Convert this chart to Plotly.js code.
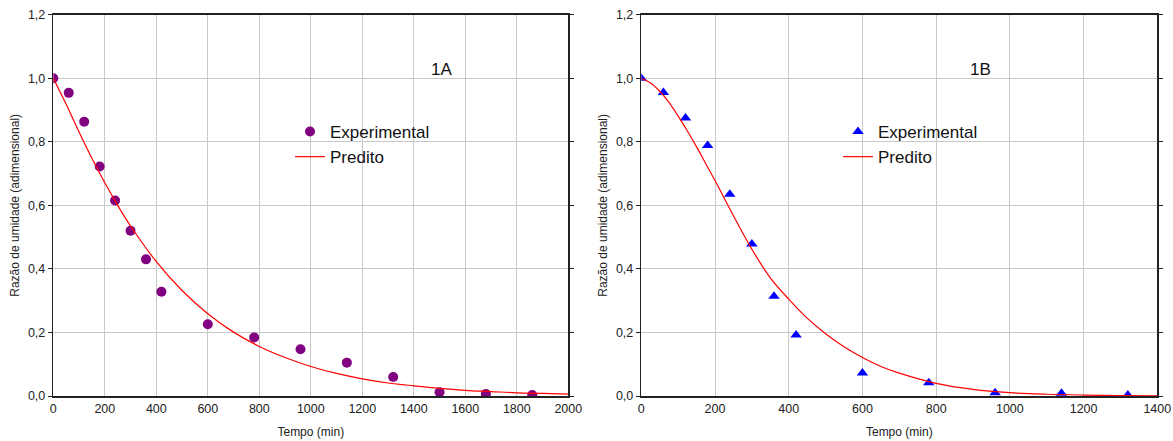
<!DOCTYPE html>
<html>
<head>
<meta charset="utf-8">
<script src="https://cdn.plot.ly/plotly-3.0.1.min.js"></script>
<style>html,body{margin:0;padding:0;background:#fff;}#chart{width:1173px;height:441px;}</style>
</head>
<body>
<div id="chart"></div>
<script>
// ---- Data: panel 1A ----
const expA_t = [0, 60, 120, 180, 240, 300, 360, 420, 600, 780, 960, 1140, 1320, 1500, 1680, 1860];
const expA_mr = [1.0, 0.954, 0.863, 0.722, 0.615, 0.520, 0.430, 0.328, 0.226, 0.184, 0.147, 0.105, 0.060, 0.012, 0.006, 0.003];
const predA_t = [0, 50, 100, 150, 200, 250, 300, 400, 500, 600, 700, 800, 900, 1000, 1100, 1200, 1300, 1400, 1500, 1600, 1700, 1800, 1900, 2000];
const predA_mr = [1.0, 0.918, 0.831, 0.748, 0.671, 0.600, 0.535, 0.423, 0.332, 0.259, 0.201, 0.156, 0.121, 0.093, 0.071, 0.054, 0.041, 0.032, 0.024, 0.018, 0.014, 0.010, 0.008, 0.006];

// ---- Data: panel 1B ----
const expB_t = [0, 60, 120, 180, 240, 300, 360, 420, 600, 780, 960, 1140, 1320];
const expB_mr = [1.0, 0.955, 0.875, 0.788, 0.635, 0.478, 0.314, 0.192, 0.072, 0.042, 0.010, 0.009, 0.003];
const predB_t = [0, 25, 50, 75, 100, 125, 150, 175, 200, 250, 300, 350, 400, 450, 500, 550, 600, 650, 700, 800, 900, 1000, 1100, 1200, 1300, 1400];
const predB_mr = [1.0, 0.985, 0.959, 0.924, 0.881, 0.834, 0.784, 0.731, 0.678, 0.567, 0.462, 0.372, 0.305, 0.245, 0.196, 0.155, 0.121, 0.093, 0.072, 0.040, 0.021, 0.0105, 0.0055, 0.003, 0.0015, 0.0008];

// ---- Text ----
const yTitle = "Razão de umidade (adimensional)";
const xTitle = "Tempo (min)";
const labelA = "1A";
const labelB = "1B";
const nameExp = "Experimental";
const namePred = "Predito";

const FONT = "Liberation Sans, Arial, sans-serif";

const traces = [
  {x: expA_t, y: expA_mr, type: "scatter", mode: "markers", name: nameExp,
   marker: {symbol: "circle", size: 10, color: "#800080"}, xaxis: "x", yaxis: "y", legend: "legend"},
  {x: predA_t, y: predA_mr, type: "scatter", mode: "lines", name: namePred, line: {shape: "spline", color: "#ff0000", width: 1.2},
   xaxis: "x", yaxis: "y", legend: "legend"},
  {x: expB_t, y: expB_mr, type: "scatter", mode: "markers", name: nameExp,
   marker: {symbol: "triangle-up", size: 10, color: "#0000ff"}, xaxis: "x2", yaxis: "y2", legend: "legend2"},
  {x: predB_t, y: predB_mr, type: "scatter", mode: "lines", name: namePred, line: {shape: "spline", color: "#ff0000", width: 1.2},
   xaxis: "x2", yaxis: "y2", legend: "legend2"}
];

const yDom = [1 - 396/441, 1 - 14.7/441];
function xax(dom, maxv) {
  return {domain: dom, range: [0, maxv], dtick: 200, tick0: 0, showgrid: true, gridcolor: "#c8c8c8", gridwidth: 1,
    zeroline: false, showline: true, linecolor: "#222", linewidth: 1.5, mirror: true, ticks: "", 
    tickfont: {family: FONT, size: 12.5, color: "#222"}, tickformat: "d",
    title: {text: xTitle, font: {family: FONT, size: 12, color: "#222"}, standoff: 13}};
}
function yax(anchor) {
  return {domain: yDom, anchor: anchor, range: [0, 1.2], dtick: 0.2, tick0: 0, showgrid: true, gridcolor: "#c8c8c8", gridwidth: 1,
    zeroline: false, showline: true, linecolor: "#222", linewidth: 1.5, mirror: "ticks", ticks: "outside", ticklen: 4, tickcolor: "#222",
    tickfont: {family: FONT, size: 12.5, color: "#222"}, tickformat: ".1f",
    title: {text: yTitle, font: {family: FONT, size: 12, color: "#222"}, standoff: 5}};
}

const layout = {
  width: 1173, height: 441,
  margin: {l: 0, r: 0, t: 0, b: 0},
  paper_bgcolor: "#fff", plot_bgcolor: "#fff",
  separators: ",.",
  font: {family: FONT, color: "#222"},
  xaxis: Object.assign(xax([53.3/1173, 568.3/1173], 2000), {anchor: "y"}),
  yaxis: yax("x"),
  xaxis2: Object.assign(xax([641.3/1173, 1157.3/1173], 1400), {anchor: "y2"}),
  yaxis2: yax("x2"),
  showlegend: true,
  legend: {x: 290/1173, y: 1 - 114/441, xanchor: "left", yanchor: "top", bgcolor: "rgba(0,0,0,0)",
    font: {family: FONT, size: 17, color: "#111"}, tracegroupgap: 0, itemwidth: 30},
  legend2: {x: 838/1173, y: 1 - 114/441, xanchor: "left", yanchor: "top", bgcolor: "rgba(0,0,0,0)",
    font: {family: FONT, size: 17, color: "#111"}, tracegroupgap: 0, itemwidth: 30},
  annotations: [
    {text: labelA, xref: "x", yref: "y", x: 1508, y: 1.028, showarrow: false, font: {family: FONT, size: 17, color: "#111"}},
    {text: labelB, xref: "x2", yref: "y2", x: 919, y: 1.028, showarrow: false, font: {family: FONT, size: 17, color: "#111"}}
  ]
};

Plotly.newPlot("chart", traces, layout, {displayModeBar: false, staticPlot: true});
</script>
</body>
</html>
